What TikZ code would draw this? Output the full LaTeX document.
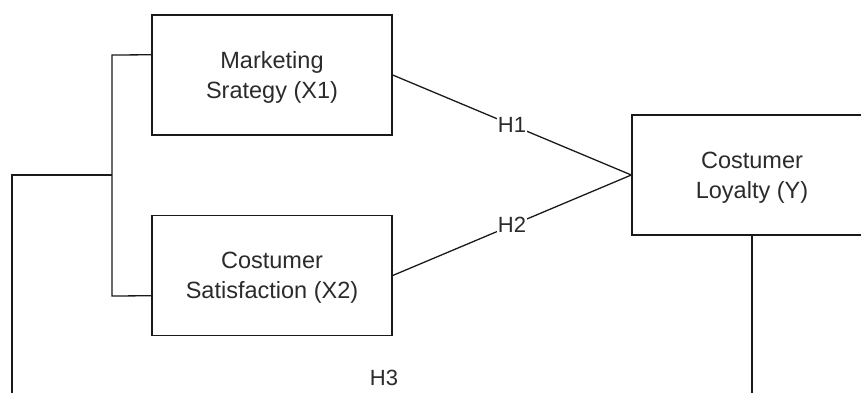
\documentclass[tikz,border=0pt]{standalone}
\usepackage{fontspec}
\setmainfont{Liberation Sans}
\usetikzlibrary{calc}
\definecolor{ink}{HTML}{1A1A1A}
\definecolor{txt}{HTML}{2B2B2B}
\tikzset{
  varbox/.style={draw=ink, line width=1.4pt, fill=white, minimum width=240pt,
    minimum height=120pt, inner sep=0pt, align=center, text=txt, text depth=0pt,
    font=\fontsize{23.5}{30}\selectfont},
  link/.style={draw=ink, line width=1.3pt},
  hyp/.style={fill=white, inner sep=1pt, text=txt, font=\fontsize{22}{26}\selectfont}
}
\begin{document}
\begin{tikzpicture}[x=1pt,y=-1pt]
  \useasboundingbox (0,0) rectangle (861,392);
  \clip (0,0) rectangle (861,392);

  % variable boxes
  \node[varbox] (x1) at (272,75) {Marketing\\Srategy (X1)};
  \node[varbox] (x2) at (272,275.5) {Costumer\\Satisfaction (X2)};
  \node[varbox] (y)  at (752,175) {Costumer\\Loyalty (Y)};

  % attachment points of the bracket joining X1 and X2
  \coordinate (a1) at ($(x1.north west)!1/3!(x1.south west)$);
  \coordinate (a2) at ($(x2.north west)!2/3!(x2.south west)$);
  \coordinate (b1) at (112,55);
  \coordinate (b2) at (112,296);
  \coordinate (bm) at (112,175);
  \coordinate (l1) at (12,175);
  \coordinate (l2) at (12,400);
  \coordinate (r2) at (752,400);

  % direct hypotheses
  \draw[link] (x1.east) -- node[hyp] (h1) {H1} (y.west);
  \draw[link] (x2.east) -- node[hyp] (h2) {H2} (y.west);

  % joint hypothesis path
  \draw[link] (a1) -- (b1) -- (b2) -- (a2);
  \draw[link] (bm) -- (l1) -- (l2);
  \draw[link] (y.south) -- (r2);
  \node[hyp] (h3) at (384,378) {H3};
\end{tikzpicture}
\end{document}
